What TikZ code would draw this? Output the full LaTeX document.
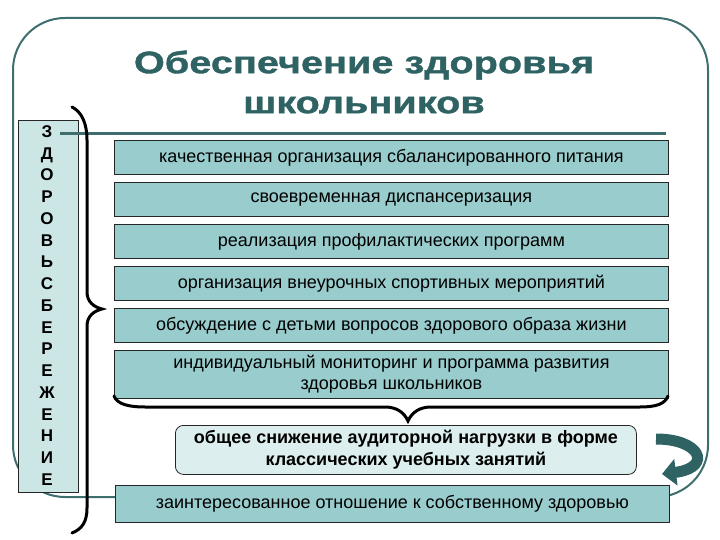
\documentclass[tikz,border=0pt]{standalone}
\usepackage{fontspec}
\setmainfont{Liberation Sans}
\newfontfamily\titlefont[FakeStretch=1.28, BoldFeatures={FakeBold=1.2}]{Liberation Sans}
\usetikzlibrary{arrows.meta}
\definecolor{boxteal}{HTML}{99CCCC}
\definecolor{lightteal}{HTML}{CCE6E6}
\definecolor{paleteal}{HTML}{DDEEEE}
\definecolor{darkteal}{HTML}{2F6262}
\definecolor{framecol}{HTML}{3F6E6E}
\tikzset{
  tbox/.style={draw=black!85, line width=0.8pt, fill=boxteal, minimum width=554pt, inner sep=0pt, anchor=north west, align=center, font=\fontsize{18}{21}\selectfont},
  bracestyle/.style={draw=black, line width=3pt, line cap=round},
}
\begin{document}
\begin{tikzpicture}[x=1pt,y=-1pt]
\useasboundingbox (0,0) rectangle (720,540);
% outer frame
\draw[framecol, line width=2pt, rounded corners=52pt] (13,18) rectangle (708,497);
% title
\node[text=darkteal, font=\titlefont\fontsize{31}{40}\selectfont\bfseries, align=center] (title) at (364,82) {Обеспечение здоровья\\школьников};
% vertical box
\node[draw=black!85, line width=0.8pt, fill=lightteal, minimum width=60pt, minimum height=372pt, anchor=north west, inner sep=0pt] (vbox) at (18,120) {};
\node[font=\fontsize{17}{21.75}\selectfont\bfseries, align=center, anchor=north] (vtext) at (47,122) {З\\Д\\О\\Р\\О\\В\\Ь\\С\\Б\\Е\\Р\\Е\\Ж\\Е\\Н\\И\\Е};
% line under title
\coordinate (ls) at (60,134);
\coordinate (le) at (666,134);
\draw[framecol, line width=3pt] (ls) -- (le);
% boxes
\node[tbox, minimum height=34pt] (b1) at (114,140) {качественная организация сбалансированного питания};
\node[tbox, minimum height=34pt] (b2) at (114,182) {своевременная диспансеризация};
\node[tbox, minimum height=34pt] (b3) at (114,224) {реализация профилактических программ};
\node[tbox, minimum height=34pt] (b4) at (114,266) {организация внеурочных спортивных мероприятий};
\node[tbox, minimum height=34pt] (b5) at (114,308) {обсуждение с детьми вопросов здорового образа жизни};
\node[tbox, minimum height=48pt] (b6) at (114,350) {индивидуальный мониторинг и программа развития\\здоровья школьников};
% left brace
\draw[bracestyle] (72,107) .. controls (82,112) and (87,124) .. (87,140) -- (87,292)
  .. controls (87,302) and (94,307) .. (102,309) .. controls (94,311) and (87,316) .. (87,326)
  -- (87,508) .. controls (87,522) and (82,529) .. (72,533);
% bottom brace
\draw[bracestyle] (114,396) .. controls (117,404) and (128,407) .. (145,407) -- (385,407)
  .. controls (396,407) and (404,412) .. (408,421) .. controls (412,412) and (420,407) .. (431,407)
  -- (640,407) .. controls (656,407) and (665,404) .. (668,396);
% rounded box
\node[draw=black!85, line width=0.8pt, fill=paleteal, rounded corners=8pt, minimum width=461pt, minimum height=49pt, anchor=north west, align=center, inner sep=0pt, font=\fontsize{18}{22}\selectfont\bfseries] (rb) at (175,425) {общее снижение аудиторной нагрузки в форме\\классических учебных занятий};
% curved arrow
\coordinate (as) at (656,439);
\coordinate (ae) at (662,474);
\draw[darkteal, line width=11pt, -{Triangle[width=26pt,length=14pt]}] (as) .. controls (700,439) and (712,466) .. (678,472) -- (ae);
% bottom box
\node[tbox, minimum height=37pt] (b7) at (115,485) {заинтересованное отношение к собственному здоровью};
\end{tikzpicture}
\end{document}
